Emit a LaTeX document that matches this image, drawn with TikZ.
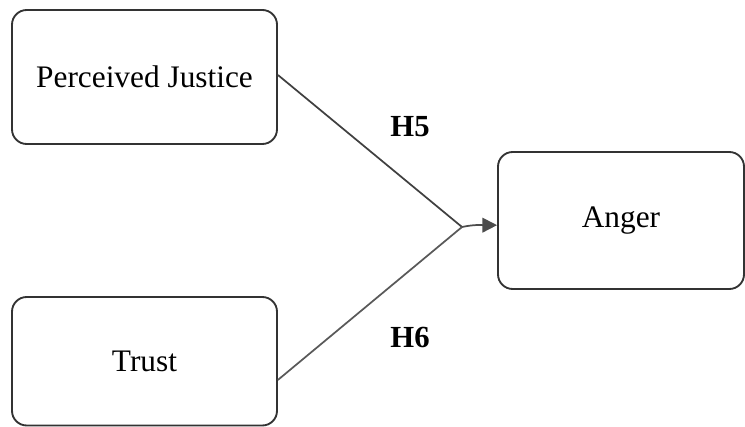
\documentclass[tikz,border=0pt]{standalone}
\usepackage{fontspec}
\setmainfont{Liberation Serif}
\usetikzlibrary{arrows.meta,calc}
\begin{document}
\begin{tikzpicture}[x=0.75pt,y=-0.75pt,
  box/.style={draw=black!80,line width=1.4pt,rounded corners=11pt,fill=white,inner sep=0pt,font=\fontsize{23.5}{27}\selectfont},
  conn/.style={draw=black!75,line width=1.3pt},
  hyp/.style={font=\fontsize{23}{27}\selectfont\bfseries}]
\useasboundingbox (0,0) rectangle (745,427);
\node[box,minimum width=265*0.75pt,minimum height=134*0.75pt] (pj) at (144.5,77) {Perceived Justice};
\node[box,minimum width=265*0.75pt,minimum height=128.5*0.75pt] (tr) at (144.5,361.25) {Trust};
\node[box,minimum width=246*0.75pt,minimum height=137*0.75pt] (an) at (621,220.5) {Anger};
\coordinate (m) at (462,227);
\draw[conn] ([yshift=1.5pt]pj.east) -- (m);
\draw[conn,draw=black!65] ([yshift=-14pt]tr.east) -- (m);
\draw[conn,draw=black!70,-{Triangle[length=11pt,width=11pt]}] (m) to[out=12,in=180] ([yshift=-3.5pt]an.west);
\node[hyp] (h5) at (410,127) {H5};
\node[hyp] (h6) at (410,337) {H6};
\end{tikzpicture}
\end{document}
